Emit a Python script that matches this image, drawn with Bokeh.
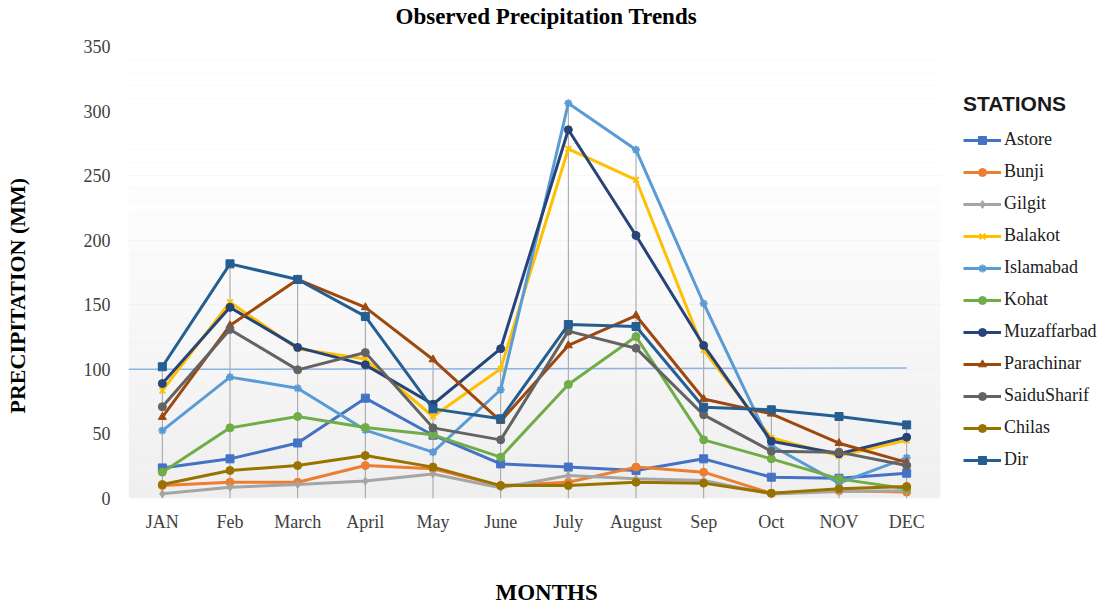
from bokeh.plotting import figure
from bokeh.models import (Range1d, FixedTicker, Legend, LegendItem, BoxAnnotation,
                          ColumnDataSource, Title)
from bokeh.embed import file_html
from bokeh.resources import INLINE

months = ["JAN", "Feb", "March", "April", "May", "June", "July", "August", "Sep", "Oct", "NOV", "DEC"]

astore = [23.7, 30.7, 43.0, 77.7, 49.0, 26.8, 24.3, 21.7, 30.7, 16.5, 15.7, 19.6]
bunji = [10.0, 12.6, 12.6, 25.5, 23.0, 10.0, 12.6, 24.3, 20.4, 4.0, 6.0, 5.0]
gilgit = [3.6, 8.8, 10.8, 13.5, 19.0, 8.3, 17.8, 15.2, 14.0, 3.5, 5.5, 6.0]
balakot = [83.6, 152.0, 116.0, 108.0, 63.5, 100.4, 270.8, 246.8, 115.0, 47.0, 33.0, 45.0]
islamabad = [52.6, 94.0, 85.4, 53.0, 35.9, 84.2, 306.0, 270.0, 151.0, 41.0, 11.9, 31.5]
kohat = [20.4, 54.7, 63.5, 55.0, 49.3, 32.0, 88.3, 125.4, 45.4, 30.7, 15.2, 7.5]
muzaffarbad = [89.0, 148.0, 117.0, 103.5, 73.0, 116.0, 285.5, 203.7, 118.5, 44.4, 34.6, 47.5]
parachinar = [63.0, 134.0, 169.6, 148.0, 107.6, 59.9, 118.5, 141.7, 77.0, 65.6, 42.8, 28.0]
saidusharif = [71.0, 130.9, 99.6, 113.0, 54.7, 45.4, 129.6, 116.4, 64.8, 36.6, 35.9, 25.5]
chilas = [10.8, 21.7, 25.5, 33.3, 24.3, 10.0, 10.0, 12.6, 11.9, 4.1, 7.5, 9.3]
dir_ = [102.0, 181.7, 169.6, 141.0, 69.4, 61.7, 134.7, 133.2, 70.7, 68.7, 63.5, 57.0]

stations = ["Astore", "Bunji", "Gilgit", "Balakot", "Islamabad", "Kohat",
            "Muzaffarbad", "Parachinar", "SaiduSharif", "Chilas", "Dir"]
series = [astore, bunji, gilgit, balakot, islamabad, kohat,
          muzaffarbad, parachinar, saidusharif, chilas, dir_]
colors = ["#4472C4", "#ED7D31", "#A5A5A5", "#FFC000", "#5B9BD5", "#70AD47",
          "#264478", "#9E480E", "#636363", "#997300", "#255E91"]
markers = ["square", "circle", "diamond", "x", "asterisk", "circle",
           "circle", "triangle", "circle", "circle", "square"]

# light blue horizontal reference line (start value, end value)
reference_line = [100.0, 101.0]

y_max = 350
y_ticks = [0, 50, 100, 150, 200, 250, 300, 350]

SERIF = "Liberation Serif"

# layout (pixels)
W, H = 1102, 609
LEFT, TOP, BOTTOM = 128, 46, 111
CHART_W = 812                      # width of the month area; the legend sits to its right
frame_w = W - LEFT
n = len(months)
x_end = -0.5 + frame_w * n / CHART_W
x_last = n - 0.5

p = figure(width=W, height=H, output_backend="svg", toolbar_location=None,
           x_range=Range1d(-0.5, x_end), y_range=Range1d(0, y_max),
           min_border_left=LEFT, min_border_right=0, min_border_top=TOP, min_border_bottom=BOTTOM)
p.outline_line_color = None
p.background_fill_color = "white"
p.border_fill_color = "white"


def spacer(size):
    return Title(text="\u00a0", text_font_size="1px", standoff=size)


def heading(text, offset, size):
    return Title(text=text, align="left", offset=offset, standoff=0,
                 text_font=SERIF, text_font_style="bold", text_font_size=size,
                 text_color="#000000")


# spacer (nearest to frame) then the real heading outside it
p.add_layout(spacer(15), "above")
p.add_layout(heading("Observed Precipitation Trends", 267, "23px"), "above")
p.add_layout(spacer(48), "left")
p.add_layout(heading("PRECIPITATION  (MM)", 85, "22px"), "left")
p.add_layout(spacer(40), "below")
p.add_layout(heading("MONTHS", 367, "23px"), "below")

# soft vertical gradient in the chart area
nb = 35
for i in range(nb):
    b = i * y_max / nb
    t = (i + 1) * y_max / nb
    frac = min(1.0, (b + t) / 2 / 260.0)
    c = int(round(239 + (255 - 239) * frac))
    p.add_layout(BoxAnnotation(bottom=b, top=t, right=x_last, fill_color=f"#{c:02x}{c:02x}{c:02x}",
                               fill_alpha=1.0, line_color=None, level="underlay"))

# axes styling
xi = list(range(n))
p.xaxis.ticker = FixedTicker(ticks=xi)
p.xaxis.major_label_overrides = {i: m for i, m in enumerate(months)}
p.yaxis.ticker = FixedTicker(ticks=y_ticks, minor_ticks=list(range(0, y_max + 1, 10)))
for ax in (p.xaxis[0], p.yaxis[0]):
    ax.axis_line_color = None
    ax.major_tick_line_color = None
    ax.minor_tick_line_color = None
    ax.major_tick_out = 0
    ax.minor_tick_out = 0
    ax.major_label_text_font = SERIF
    ax.major_label_text_font_size = "18px"
    ax.major_label_text_color = "#404040"
p.xaxis.major_label_standoff = 13
p.yaxis.major_label_standoff = 18

p.xgrid.grid_line_color = None
p.ygrid.grid_line_color = "#d9d9d9"
p.ygrid.grid_line_width = 1
p.ygrid.minor_grid_line_color = "#e9e9e9"
p.ygrid.minor_grid_line_width = 1

# white mask over the legend area (hides grid lines to the right of the chart)
p.add_layout(BoxAnnotation(left=x_last, fill_color="white", fill_alpha=1.0,
                           line_color=None, level="glyph"))

# drop lines from highest point of each month
tops = [max(s[i] for s in series) for i in xi]
p.segment(x0=xi, y0=[0] * n, x1=xi, y1=tops, line_color="#a0a0a0", line_width=1)

# reference line
p.line(x=[-0.5, n - 1], y=reference_line, line_color="#8db3e2", line_width=1.5)

items = []
for name, vals, col, mk in zip(stations, series, colors, markers):
    src = ColumnDataSource(dict(x=xi, y=vals))
    r1 = p.line("x", "y", source=src, line_color=col, line_width=3)
    r2 = p.scatter("x", "y", source=src, marker=mk, size=8, fill_color=col,
                   line_color=col, line_width=2 if mk in ("x", "asterisk") else 1)
    items.append(LegendItem(label=name, renderers=[r1, r2]))

# location = (left, bottom) of the legend box, in pixels from the frame's bottom-left corner
legend = Legend(items=items, location=(835, 28), orientation="vertical",
                title="STATIONS", title_text_font="Liberation Sans", title_text_font_style="bold",
                title_text_font_size="21px", title_text_color="#1a1a1a", title_standoff=13,
                label_text_font=SERIF, label_text_font_size="18px", label_text_color="#202020",
                glyph_width=38, glyph_height=20, label_height=20, spacing=11,
                label_standoff=3, padding=0, margin=0,
                border_line_color=None, background_fill_alpha=0)
p.add_layout(legend, "center")

open("out.html", "w").write(file_html(p, INLINE))
